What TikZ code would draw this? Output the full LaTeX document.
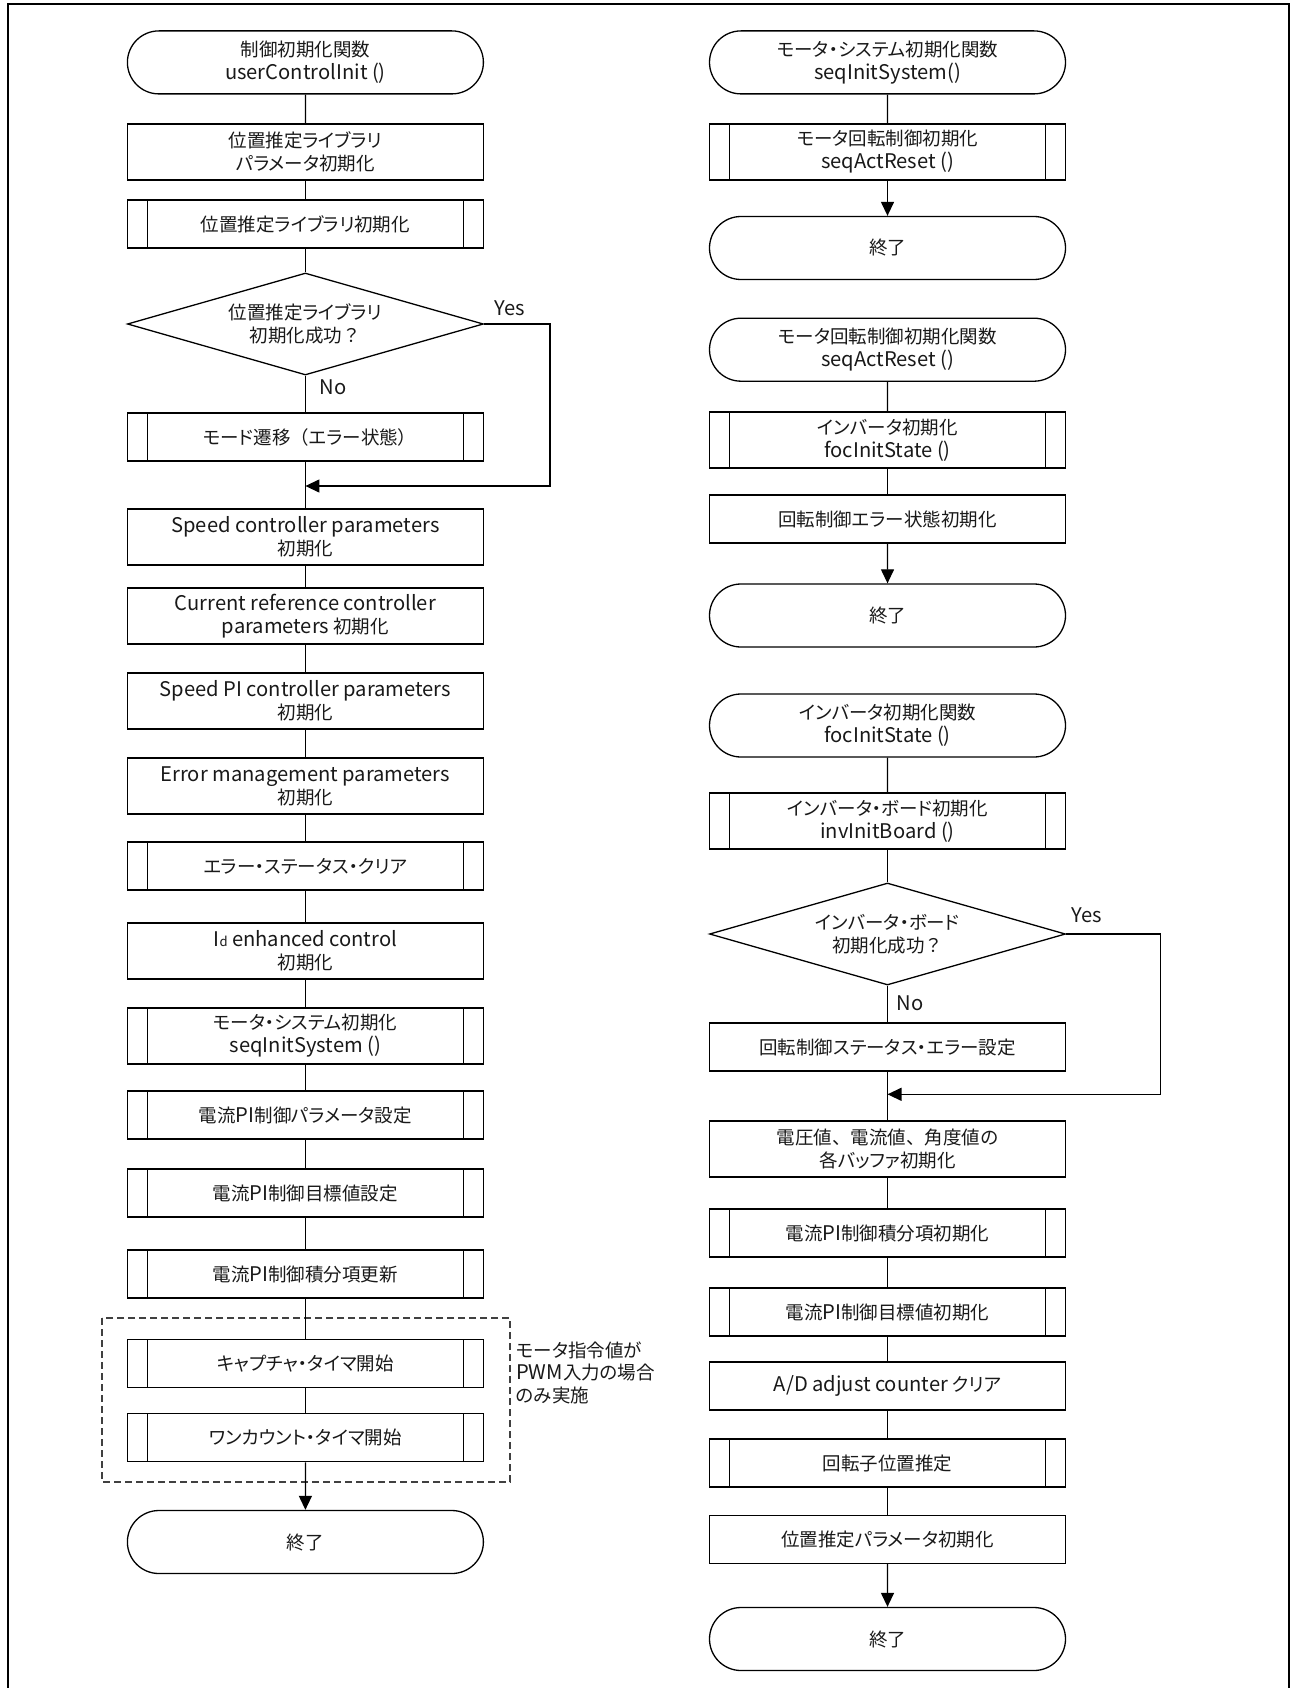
\documentclass[tikz,border=0pt]{standalone}
\usepackage{fontspec}
\setmainfont{Noto Sans CJK JP}[RawFeature=+palt]
\newfontfamily\lat{Noto Sans CJK JP}[Scale=1.09]
\newfontfamily\jfw{Noto Sans CJK JP}
\usetikzlibrary{shapes.geometric,shapes.misc,arrows.meta}
\begin{document}
\begin{tikzpicture}[x=1pt,y=-1pt,
  every node/.style={font=\fontsize{18.5}{23}\selectfont, text=black!90},
  base/.style={draw, line width=1.3pt, fill=white, align=center, inner sep=0pt},
  box/.style={base, rectangle, minimum width=356pt, minimum height=56pt},
  sh/.style={minimum height=48pt},
  predef/.style={box, path picture={
     \draw[line width=1.3pt] ([xshift=20pt]path picture bounding box.north west) -- ([xshift=20pt]path picture bounding box.south west)
                             ([xshift=-20pt]path picture bounding box.north east) -- ([xshift=-20pt]path picture bounding box.south east);}},
  term/.style={base, rounded rectangle, minimum width=356pt, minimum height=63pt},
  dec/.style={base, diamond, aspect=3.5, minimum width=356pt, minimum height=102pt},
  conn/.style={line width=1.3pt},
  arr/.style={conn, -{Triangle[length=14pt,width=13pt]}},
  lbl/.style={inner sep=0pt}
]
\path[use as bounding box] (0,0) rectangle (1290,1688);
\draw[line width=2pt] (8.3,1690) -- (8.3,4) -- (1288.5,4) -- (1288.5,1690);

% ---------------- left column ----------------
\node[term] (t1) at (305.4,62.4) {制御初期化関数\\{\lat userControlInit ()}};
\node[box] (b2) at (305.4,152) {位置推定ライブラリ\\パラメータ初期化};
\node[predef,sh] (p3) at (305.4,224) {位置推定ライブラリ初期化};
\node[dec] (d4) at (305.4,324) {位置推定ライブラリ\\初期化成功{\jfw ？}};
\node[predef,sh] (p5) at (305.4,437) {モード遷移{\jfw （}エラー状態）};
\coordinate (m1) at (305.4,486);
\coordinate (ya) at (550,486);
\node[box] (b6) at (305.4,537) {{\lat Speed controller parameters}\\初期化};
\node[box] (b7) at (305.4,616) {{\lat Current reference controller}\\{\lat parameters} 初期化};
\node[box] (b8) at (305.4,701) {{\lat Speed PI controller parameters}\\初期化};
\node[box] (b9) at (305.4,786) {{\lat Error management parameters}\\初期化};
\node[predef,sh] (p10) at (305.4,866) {エラー・ステータス・クリア};
\node[box] (b11) at (305.4,951) {{\lat I{\fontsize{12}{12}\selectfont d} enhanced control}\\初期化};
\node[predef] (p12) at (305.4,1036) {モータ・システム初期化\\{\lat seqInitSystem ()}};
\node[predef,sh] (p13) at (305.4,1115) {電流{\lat PI}制御パラメータ設定};
\node[predef,sh] (p14) at (305.4,1193) {電流{\lat PI}制御目標値設定};
\node[predef,sh] (p15) at (305.4,1274) {電流{\lat PI}制御積分項更新};
\node[predef,sh] (p16) at (305.4,1363.5) {キャプチャ・タイマ開始};
\node[predef,sh] (p17) at (305.4,1437.7) {ワンカウント・タイマ開始};
\node[term] (t18) at (305.4,1542) {終了};
\draw[line width=1.2pt, black!75, dash pattern=on 7pt off 4pt] (102,1318) rectangle (510,1482);
\node[lbl, anchor=west, align=left, font=\fontsize{18.5}{22.7}\selectfont] (note) at (516,1372.7) {モータ指令値が\\{\lat PWM}入力の場合\\のみ実施};
\node[lbl] (yes1) at (509.5,308) {\lat Yes};
\node[lbl] (no1) at (333,387) {\lat No};

\draw[conn] (t1) -- (b2);
\draw[conn] (b2) -- (p3);
\draw[conn] (p3) -- (d4);
\draw[conn] (d4) -- (p5);
\draw[conn] (p5) -- (b6);
\draw[arr] (d4.east) -| (ya) -- (m1);
\draw[conn] (b6) -- (b7);
\draw[conn] (b7) -- (b8);
\draw[conn] (b8) -- (b9);
\draw[conn] (b9) -- (p10);
\draw[conn] (p10) -- (b11);
\draw[conn] (b11) -- (p12);
\draw[conn] (p12) -- (p13);
\draw[conn] (p13) -- (p14);
\draw[conn] (p14) -- (p15);
\draw[conn] (p15) -- (p16);
\draw[conn] (p16) -- (p17);
\draw[arr] (p17) -- (t18);

% ---------------- right column ----------------
\node[term] (r1) at (887.5,62.4) {モータ・システム初期化関数\\{\lat seqInitSystem()}};
\node[predef] (r2) at (887.5,152) {モータ回転制御初期化\\{\lat seqActReset ()}};
\node[term] (r3) at (887.5,248) {終了};
\node[term] (r4) at (887.5,349.7) {モータ回転制御初期化関数\\{\lat seqActReset ()}};
\node[predef] (r5) at (887.5,440) {インバータ初期化\\{\lat focInitState ()}};
\node[box,sh] (r6) at (887.5,519) {回転制御エラー状態初期化};
\node[term] (r7) at (887.5,615.5) {終了};
\node[term] (r8) at (887.5,725.5) {インバータ初期化関数\\{\lat focInitState ()}};
\node[predef] (r9) at (887.5,821) {インバータ・ボード初期化\\{\lat invInitBoard ()}};
\node[dec] (r10) at (887.5,934) {インバータ・ボード\\初期化成功{\jfw ？}};
\node[box,sh] (r11) at (887.5,1047) {回転制御ステータス・エラー設定};
\coordinate (m2) at (887.5,1094.3);
\coordinate (yb) at (1160.5,1094.3);
\node[box] (r12) at (887.5,1149) {電圧値{\jfw 、}電流値{\jfw 、}角度値の\\各バッファ初期化};
\node[predef,sh] (r13) at (887.5,1233) {電流{\lat PI}制御積分項初期化};
\node[predef,sh] (r14) at (887.5,1312) {電流{\lat PI}制御目標値初期化};
\node[box,sh] (r15) at (887.5,1386) {{\lat A/D adjust counter} クリア};
\node[predef,sh] (r16) at (887.5,1463) {回転子位置推定};
\node[box,sh] (r17) at (887.5,1539.5) {位置推定パラメータ初期化};
\node[term] (r18) at (887.5,1639) {終了};
\node[lbl] (yes2) at (1087,915) {\lat Yes};
\node[lbl] (no2) at (910,1003) {\lat No};

\draw[conn] (r1) -- (r2);
\draw[arr] (r2) -- (r3);
\draw[conn] (r4) -- (r5);
\draw[conn] (r5) -- (r6);
\draw[arr] (r6) -- (r7);
\draw[conn] (r8) -- (r9);
\draw[conn] (r9) -- (r10);
\draw[conn] (r10) -- (r11);
\draw[conn] (r11) -- (r12);
\draw[arr] (r10.east) -| (yb) -- (m2);
\draw[conn] (r12) -- (r13);
\draw[conn] (r13) -- (r14);
\draw[conn] (r14) -- (r15);
\draw[conn] (r15) -- (r16);
\draw[conn] (r16) -- (r17);
\draw[arr] (r17) -- (r18);
\end{tikzpicture}
\end{document}
